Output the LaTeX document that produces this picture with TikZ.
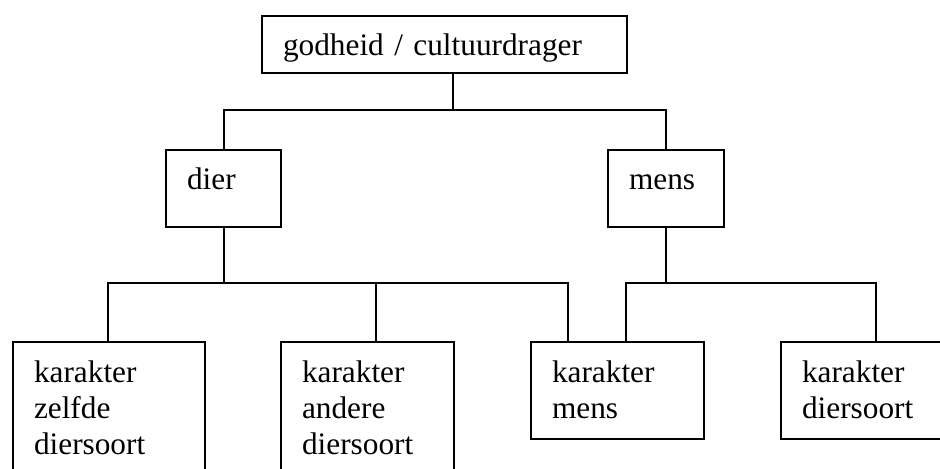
\documentclass[tikz,border=0pt]{standalone}
\usepackage{fontspec}
\setmainfont{Liberation Serif}
\newcommand{\boxfont}{\fontsize{15.65pt}{18.15pt}\selectfont}
\begin{document}
\begin{tikzpicture}[x=0.5pt, y=-0.5pt]
    \tikzstyle{every node}=[font=\boxfont, align=left]
    \tikzset{
        n/.style 2 args={draw, line width=1pt, anchor=north west, inner xsep=10.5pt, inner ysep=0pt, text width=#1, text height=20pt, text depth=#2},
        lnk/.style={line width=1pt}
        }
    \useasboundingbox (0,0) rectangle (940,469);
    \clip (0,0) rectangle (940,469);

    %top
    \node (top) [n={161.5pt}{8.65pt}] at (261,15) {godheid / cultuurdrager};

    %dier and mens
    \node (dier) [n={36.65pt}{18.5pt}] at (165,149) {dier};
    \node (mens) [n={37pt}{18.5pt}] at (607,149) {mens};

    %karakters
    \node (k1) [n={74.8pt}{50pt}] at (12,341) {karakter\\zelfde\\diersoort};
    \node (k2) [n={65.65pt}{50pt}] at (280,341) {karakter\\andere\\diersoort};
    \node (k3) [n={65.65pt}{28.3pt}] at (530,341) {karakter\\mens};
    \node (k4) [n={75pt}{28.3pt}] at (780,341) {karakter\\diersoort};

    %lines
    \coordinate (bus1) at (0,110.3);
    \coordinate (bus2) at (0,283.3);
    \coordinate (topc) at ([xshift=96pt]top.south west);
    \foreach \k in {k1,k2,k3,k4}
        \coordinate (\k c) at ([xshift=48pt]\k.north west);
    \coordinate (k3l) at ([xshift=19.2pt]k3.north west);

    \draw[lnk] (topc) -- (topc |- bus1);
    \draw[lnk] (dier.north) |- (bus1 -| mens.north) -- (mens.north);

    \draw[lnk] (dier.south) -- (dier.south |- bus2);
    \draw[lnk] (k1c) |- (bus2 -| k3l) -- (k3l);
    \draw[lnk] (k2c) -- (k2c |- bus2);

    \draw[lnk] (mens.south) -- (mens.south |- bus2);
    \draw[lnk] (k3c) |- (bus2 -| k4c) -- (k4c);
\end{tikzpicture}
\end{document}
